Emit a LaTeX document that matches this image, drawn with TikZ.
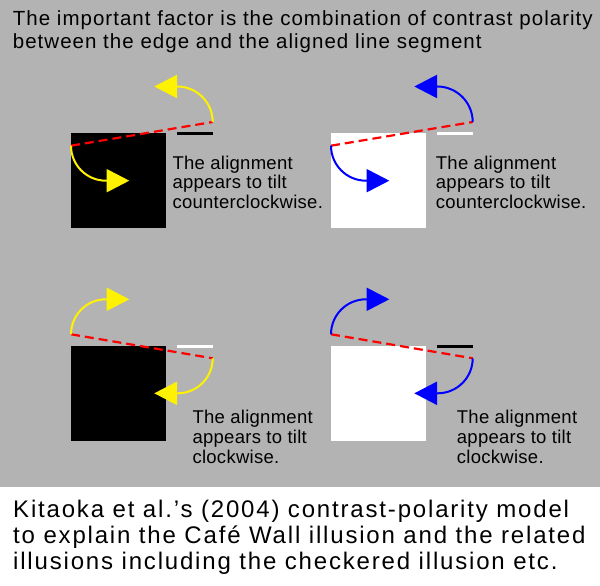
\documentclass[tikz,border=0pt]{standalone}
\usepackage{fontspec}
\setmainfont{Liberation Sans}
\newfontfamily\headfont[LetterSpace=5]{Liberation Sans}
\newfontfamily\notefont[LetterSpace=1.5]{Liberation Sans}
\newfontfamily\capfont[LetterSpace=7.6]{Liberation Sans}
\usetikzlibrary{arrows.meta}
\definecolor{panelgray}{RGB}{179,179,179}
\tikzset{
	edgeline/.style={red, line width=2.2pt, dash pattern=on 9pt off 5pt},
	segline/.style={line width=2.7pt},
	turnarrow/.style={line width=2pt, -{Triangle[length=22.7pt,width=23pt]}},
	tilttext/.style={anchor=base west, inner sep=0pt, align=left,
		font=\notefont\fontsize{18.5}{19.6}\selectfont},
}
\begin{document}
\begin{tikzpicture}[x=1pt,y=1pt]
		\useasboundingbox (0,0) rectangle (600,586);
		\fill[white] (0,0) rectangle (600,586);
		\fill[panelgray] (0,98.7) rectangle (600,586);

		% anchors sit on the last line of each text
		\node[anchor=base west, inner sep=0pt, align=left,
			font=\headfont\fontsize{20.5}{22.6}\selectfont] (head) at (12.7,537.7)
			{The important factor is the combination of contrast polarity\\
			between the edge and the aligned line segment};

		% upper row: counterclockwise
		\fill[black] (71,358) rectangle (166,453);
		\draw[segline, black] (177,452.3) -- (213,452.3);
		\draw[edgeline] (71,440.3) -- (212.7,464);
		\draw[turnarrow, yellow] (71,440.3) arc[start angle=180, end angle=270, radius=35] -- ++(23.3,0);
		\draw[turnarrow, yellow] (212.7,464) arc[start angle=0, end angle=90, radius=35.5] -- ++(-22.9,0);
		\node[tilttext] (noteA) at (172.3,377.7) {The alignment\\ appears to tilt\\ counterclockwise.};

		\begin{scope}[xshift=260pt]
		\fill[white] (71,358) rectangle (166,453);
		\draw[segline, white] (177,452.3) -- (213,452.3);
		\draw[edgeline] (71,440.3) -- (212.7,464);
		\draw[turnarrow, blue] (71,440.3) arc[start angle=180, end angle=270, radius=35] -- ++(23.3,0);
		\draw[turnarrow, blue] (212.7,464) arc[start angle=0, end angle=90, radius=35.5] -- ++(-22.9,0);
		\end{scope}
		\node[tilttext] (noteB) at (435.7,377.7) {The alignment\\ appears to tilt\\ counterclockwise.};

		% lower row: clockwise
		\fill[black] (71,145) rectangle (166,240);
		\draw[segline, white] (177,239.3) -- (213,239.3);
		\draw[edgeline] (71,251.7) -- (212.7,227.7);
		\draw[turnarrow, yellow] (71,251.7) arc[start angle=180, end angle=90, radius=35] -- ++(23.3,0);
		\draw[turnarrow, yellow] (212.7,227.7) arc[start angle=0, end angle=-90, radius=35] -- ++(-23.4,0);
		\node[tilttext] (noteC) at (192.3,122.8) {The alignment\\ appears to tilt\\ clockwise.};

		\begin{scope}[xshift=260pt]
		\fill[white] (71,145) rectangle (166,240);
		\draw[segline, black] (177,239.3) -- (213,239.3);
		\draw[edgeline] (71,251.7) -- (212.7,227.7);
		\draw[turnarrow, blue] (71,251.7) arc[start angle=180, end angle=90, radius=35] -- ++(23.3,0);
		\draw[turnarrow, blue] (212.7,227.7) arc[start angle=0, end angle=-90, radius=35] -- ++(-23.4,0);
		\end{scope}
		\node[tilttext] (noteD) at (456.7,122.8) {The alignment\\ appears to tilt\\ clockwise.};

		\node[anchor=base west, inner sep=0pt, align=left,
			font=\capfont\fontsize{24}{26.2}\selectfont] (caption) at (13,16)
			{Kitaoka et al.’s (2004) contrast-polarity model\\
			to explain the Café Wall illusion and the related\\
			illusions including the checkered illusion etc.};
	\end{tikzpicture}
\end{document}
